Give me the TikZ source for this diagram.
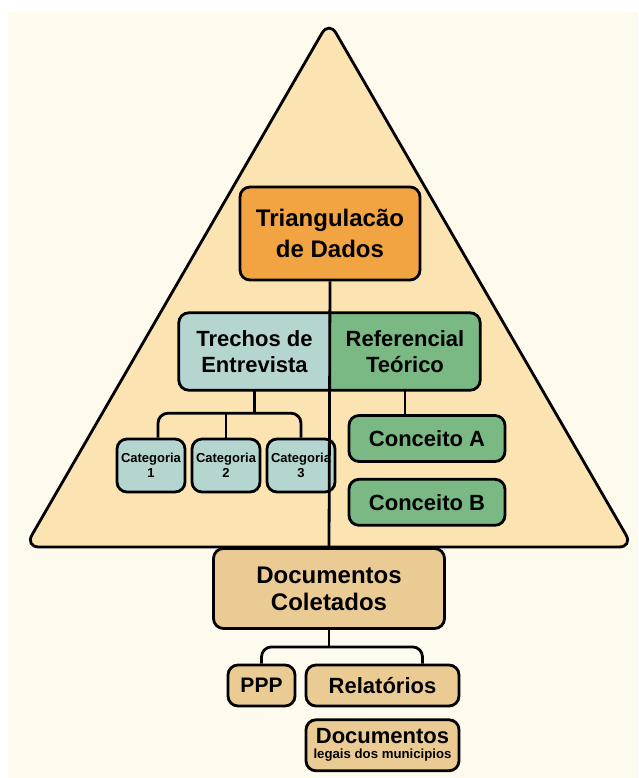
\documentclass[tikz,border=0pt]{standalone}
\usepackage{fontspec}
\setmainfont{Liberation Sans}
\usepackage{tikz}
\usetikzlibrary{positioning,backgrounds}
\definecolor{cream}{HTML}{FEFAEE}
\definecolor{pyramid}{HTML}{FBE3B2}
\definecolor{orangebox}{HTML}{F2A443}
\definecolor{tealbox}{HTML}{B5D5D1}
\definecolor{greenbox}{HTML}{7AB983}
\definecolor{tanbox}{HTML}{EBCB94}

\begin{document}
\begin{tikzpicture}[x=1pt, y=-1pt,
  box/.style={draw, line width=2.8pt, rounded corners=10pt, align=center, inner sep=0pt,
    font=\bfseries\fontsize{22}{26}\selectfont},
  half/.style={align=center, inner sep=0pt, minimum height=77pt,
    font=\bfseries\fontsize{22}{26}\selectfont},
  catbox/.style={box, fill=tealbox, minimum width=68pt, minimum height=53pt,
    font=\bfseries\fontsize{13}{15}\selectfont},
  conbox/.style={box, fill=greenbox, minimum width=156pt, minimum height=46pt,
    font=\bfseries\fontsize{22}{24}\selectfont},
  docbox/.style={box, fill=tanbox},
  link/.style={line width=2.8pt, rounded corners=10pt}
]
\useasboundingbox (0,0) rectangle (638,778);

% top of the pyramid
\node[box, fill=orangebox, minimum width=180pt, minimum height=93pt,
  font=\bfseries\fontsize{24}{26}\selectfont] (triang) at (330,233.5)
  {Triangulacão\\[5pt]de Dados};

% split box
\node[half, minimum width=151pt] (trechos) at (254.5,351.5) {Trechos de\\Entrevista};
\node[half, minimum width=150pt] (referencial) at (405,351.5) {Referencial\\Teórico};

\node[catbox] (cat1) at (151,465.5) {Categoria\\1};
\node[catbox] (cat2) at (226,465.5) {Categoria\\2};
\node[catbox] (cat3) at (301,465.5) {Categoria\\3};

\node[conbox] (conA) at (427,438.5) {Conceito A};
\node[conbox, below=15pt of conA] (conB) {Conceito B};

% documents
\node[docbox, minimum width=231pt, minimum height=80pt,
  font=\bfseries\fontsize{24}{27}\selectfont] (coletados) at (329,588.5)
  {Documentos\\Coletados};
\node[docbox, minimum width=67pt, minimum height=41pt,
  font=\bfseries\fontsize{21}{24}\selectfont] (ppp) at (261.5,685.5) {PPP};
\node[docbox, minimum width=153pt, minimum height=41pt] (relat) at (382.5,685.5) {Relatórios};
\node[docbox, minimum width=153pt, minimum height=51pt, below=11pt of relat,
  font=\bfseries\fontsize{22}{23}\selectfont] (legais)
  {Documentos\\[-8pt]{\fontsize{13.2}{15}\selectfont legais dos municipios}};

\coordinate (tjoin) at ([yshift=-23pt]trechos.south);
\coordinate (djoin) at ([yshift=-17pt]coletados.south);

\draw[link] (triang.south) -- (coletados.north);
\draw[link] (trechos.south) -- (tjoin);
\draw[link] ([xshift=7pt]cat1.north) |- (tjoin) -| (cat3.north);
\draw[link] (cat2.north) -- (cat2.north |- tjoin);
\draw[link] (referencial.south) -- (referencial.south |- conA.north);
\draw[link] (coletados.south) -- (djoin);
\draw[link] (ppp.north) |- (djoin) -| ([xshift=40pt]relat.north);

\begin{scope}[on background layer]
  \fill[white] (0,0) rectangle (638,778);
  \fill[cream] (8,12) rectangle (638,778);
  \filldraw[fill=pyramid, line width=2.8pt, rounded corners=14pt]
    (329,21) -- (633,547) -- (25,547) -- cycle;
  \fill[greenbox, rounded corners=10pt] (trechos.north west) rectangle (referencial.south east);
  \begin{scope}
    \clip (trechos.north west) rectangle (trechos.south east);
    \fill[tealbox, rounded corners=10pt] (trechos.north west) rectangle (referencial.south east);
  \end{scope}
  \draw[line width=2.8pt, rounded corners=10pt] (trechos.north west) rectangle (referencial.south east);
\end{scope}
\end{tikzpicture}
\end{document}
